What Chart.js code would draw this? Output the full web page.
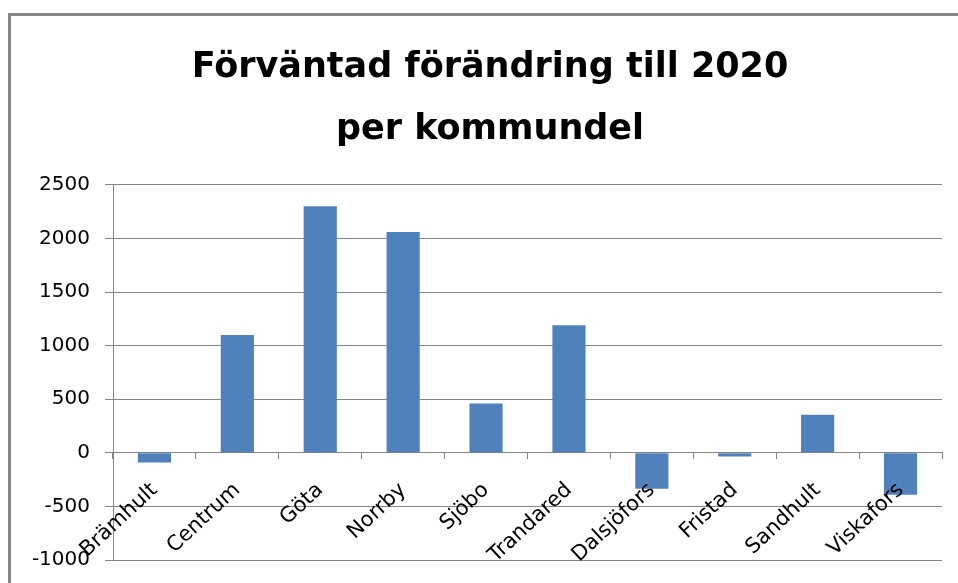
<!DOCTYPE html>
<html>
<head>
<meta charset="utf-8">
<script src="https://cdn.jsdelivr.net/npm/chart.js@4/dist/chart.umd.min.js"></script>
<style>
  html, body { margin: 0; padding: 0; background: #fff; }
  #wrap { position: relative; width: 958px; height: 583px; overflow: hidden; }
  #frame { position: absolute; left: 8px; top: 13px; width: 1000px; height: 600px; border: 3px solid #868686; box-sizing: border-box; }
  canvas { position: absolute; left: 0; top: 0; }
</style>
</head>
<body>
<div id="wrap">
  <div id="frame"></div>
  <canvas id="chart" width="960" height="583"></canvas>
</div>
<script>
// chart data
const kommundelar = ['Brämhult', 'Centrum', 'Göta', 'Norrby', 'Sjöbo', 'Trandared', 'Dalsjöfors', 'Fristad', 'Sandhult', 'Viskafors'];
const forandring = [-90, 1100, 2300, 2060, 460, 1190, -335, -35, 355, -390];
const titleLines = ['Förväntad förändring till 2020', 'per kommundel'];

const gridColor = '#868686';

const ctx = document.getElementById('chart').getContext('2d');
new Chart(ctx, {
    type: 'bar',
    data: {
        labels: kommundelar,
        datasets: [{
            data: forandring,
            backgroundColor: '#4F81BD',
            borderWidth: 0,
            barPercentage: 0.4,
            categoryPercentage: 1
        }]
    },
    options: {
        responsive: false,
        animation: false,
        layout: {
            padding: { left: 20, right: 0, top: 0, bottom: 23 }
        },
        plugins: {
            legend: { display: false },
            tooltip: { enabled: false },
            title: {
                display: true,
                text: titleLines,
                color: '#000',
                font: { family: 'DejaVu Sans', size: 35, weight: 'bold', lineHeight: 1.77 },
                padding: { top: 37, bottom: 24 }
            }
        },
        scales: {
            x: {
                position: { y: 0 },
                grid: {
                    display: true,
                    drawOnChartArea: false,
                    drawTicks: true,
                    tickLength: 6,
                    color: gridColor,
                    offset: true
                },
                border: { display: true, color: gridColor, width: 1 },
                ticks: {
                    z: 1, // labels on top of the bars
                    autoSkip: false,
                    minRotation: 43,
                    maxRotation: 43,
                    padding: 19,
                    color: '#000',
                    font: { family: 'DejaVu Sans', size: 21 }
                }
            },
            y: {
                min: -1000,
                max: 2500,
                ticks: {
                    stepSize: 500,
                    padding: 15,
                    color: '#000',
                    font: { family: 'DejaVu Sans', size: 20, lineHeight: 0.8 },
                    callback: function(value) { return String(value); }
                },
                grid: {
                    color: gridColor,
                    tickLength: 8,
                    lineWidth: 1
                },
                border: { display: true, color: gridColor, width: 1 },
                afterFit: function(axis) { axis.width = 93; }
            },
            // empty space on the right so the title is centred like the original
            pad: {
                type: 'linear',
                position: 'right',
                ticks: { display: false },
                grid: { display: false },
                border: { display: false },
                afterFit: function(axis) { axis.width = 18; }
            }
        }
    }
});
</script>
</body>
</html>
